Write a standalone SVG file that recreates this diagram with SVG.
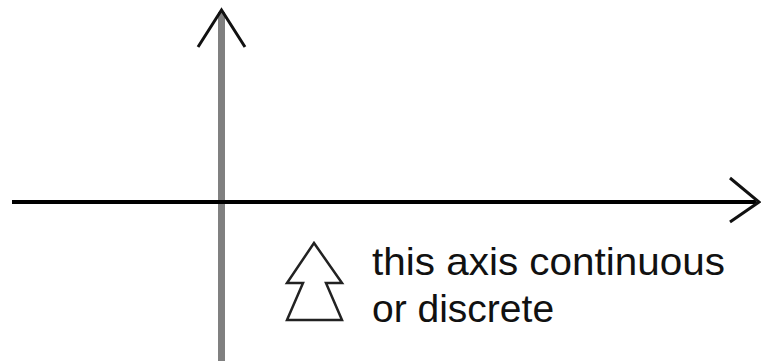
<svg xmlns="http://www.w3.org/2000/svg" width="761" height="361" viewBox="0 0 761 361">
<style>
.head{fill:none;stroke:#111;stroke-width:3;stroke-linecap:butt;stroke-linejoin:miter}
.lbl{font-family:"Liberation Sans",Arial,sans-serif;font-size:39px;fill:#111}
</style>
<rect width="761" height="361" fill="#fff"/>
<g id="connectors">
<line id="y-axis" x1="221.5" y1="12" x2="221.5" y2="361" stroke="#808080" stroke-width="7"/>
<polyline class="head" points="198,47 221.5,10 245,47"/>
<line id="x-axis" x1="12" y1="202" x2="756" y2="202" stroke="#000" stroke-width="4"/>
<polyline class="head" points="730,178 759,202 730,222"/>
</g>
<g id="hollow-arrow">
<polygon points="314,243 342,283 326,283 342,320 287,320 303,283 287,283" fill="#fff" stroke="#222" stroke-width="2.5" stroke-linejoin="miter"/>
</g>
<g id="label">
<text class="lbl" x="372" y="275" textLength="353" lengthAdjust="spacingAndGlyphs">this axis continuous</text>
<text class="lbl" x="372" y="322">or discrete</text>
</g>
</svg>
